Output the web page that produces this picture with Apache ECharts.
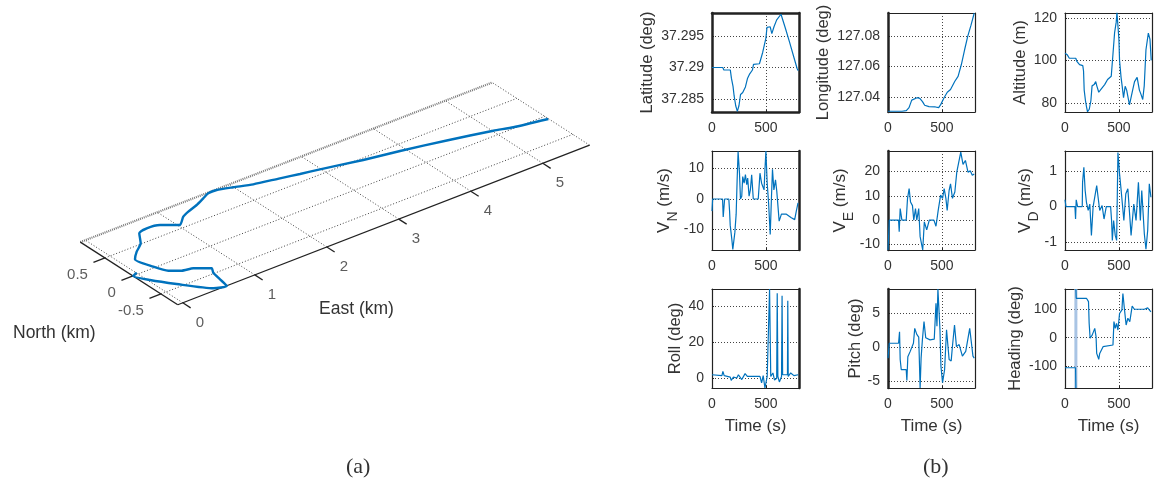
<!DOCTYPE html>
<html>
<head>
<meta charset="utf-8">
<style>html,body{margin:0;padding:0;background:#fff}#c{width:1163px;height:486px}</style>
<script src="https://cdn.jsdelivr.net/npm/echarts@6/dist/echarts.min.js"></script>
</head>
<body>
<div id="c"></div>
<script>
// ---- Panel (a): ground track, km
const trackEast = [0.006,-0.068,0.023,0.2,0.46,0.607,0.639,0.67,0.715,0.556,0.423,0.307,0.231,0.172,0.289,0.437,0.56,0.691,0.851,0.966,1.024,1.165,1.276,1.439,1.586,1.697,1.814,1.995,2.208,2.52,2.752,2.988,3.489,3.929,4.475,5.011,5.23,5.645];
const trackNorth = [0.031,-0.003,-0.185,-0.433,-0.754,-0.804,-0.643,-0.483,-0.396,-0.273,-0.236,-0.146,0.024,0.275,0.395,0.514,0.697,0.733,0.701,0.612,0.567,0.689,0.742,0.802,0.873,0.927,0.927,0.863,0.78,0.705,0.645,0.592,0.463,0.372,0.24,0.097,0.022,-0.069];
const eastTicks = [0,1,2,3,4,5];
const northTicks = [-0.5,0,0.5];
const eastRange = [-0.07,5.65];
const northRange = [-0.8,0.94];

// ---- Panel (b): [time s, value]
const latitude = [[0,37.29],[100,37.29],[110,37.2896],[170,37.2896],[180,37.2883],[195,37.287],[205,37.2855],[220,37.2839],[235,37.283],[250,37.2839],[265,37.2857],[285,37.286],[310,37.2869],[330,37.2883],[350,37.289],[375,37.2896],[385,37.2905],[440,37.2906],[470,37.2924],[500,37.2947],[510,37.2964],[540,37.2965],[555,37.2954],[575,37.2965],[600,37.2976],[640,37.2985],[680,37.2963],[720,37.294],[760,37.2916],[790,37.2898],[800,37.2895]];
const longitude = [[0,127.0305],[130,127.0305],[140,127.0309],[170,127.0309],[195,127.0329],[220,127.0378],[270,127.0394],[295,127.039],[320,127.0368],[340,127.0344],[380,127.0335],[440,127.0333],[470,127.0329],[490,127.035],[520,127.0394],[550,127.043],[580,127.0448],[620,127.0502],[650,127.0534],[680,127.061],[710,127.0707],[740,127.0798],[770,127.087],[800,127.095]];
const altitude = [[0,103.4],[20,102.7],[40,101],[100,101],[110,99.5],[135,98],[165,97.5],[172,95],[178,86],[190,81],[200,78],[209,75.8],[225,77],[240,81],[251,88],[270,88.6],[285,90],[295,88],[313,85],[335,86.5],[368,88.6],[395,91],[429,92.5],[440,93],[445,103],[460,113],[475,118],[482,122.5],[490,117],[500,110],[506,100],[520,92],[530,88],[543,82.5],[550,83],[558,87.8],[572,86],[598,79],[610,79],[629,86.3],[645,90],[669,92],[690,86],[705,84],[721,81.6],[735,88],[751,105],[773,112.8],[788,110],[800,100]];
const velNorth = [[0,-4],[6,0],[98,0],[104,-5.9],[117,0],[156,0],[163,-4],[169,-8.7],[184,-13.3],[193,-16.6],[212,-11],[224,-5],[233,6],[242,15.6],[255,8.5],[264,0],[276,0.9],[285,7.4],[298,5.2],[310,8],[322,4.7],[331,6.9],[344,0.9],[356,3],[368,8],[383,0],[429,0],[445,8.5],[460,5.2],[483,3],[491,9.6],[500,15.8],[512,5.2],[525,-1.3],[540,-11.7],[552,0.9],[561,9.8],[574,3],[589,6.3],[601,2.5],[623,-7.3],[644,-5],[690,-5],[736,-6.2],[767,-6.8],[782,-4],[798,-1.3]];
const velEast = [[0,-12.3],[12,0],[98,0],[104,-4.8],[113,4.8],[129,0],[169,0],[181,8.9],[196,13],[209,7.5],[227,6],[239,0],[255,4.8],[267,0],[285,4.8],[298,-6.8],[322,-12.3],[337,-0.7],[359,-4],[383,0],[426,0],[445,-2.5],[466,4.1],[488,10.3],[506,9],[521,13],[537,9],[549,4],[567,12.3],[580,15],[598,9],[620,11.6],[638,19.8],[675,28],[696,23],[718,24.6],[742,19.8],[764,20.3],[782,18.5],[800,19]];
const velDown = [[0,0.19],[9,0],[92,0],[98,-0.35],[104,0.19],[117,0],[160,0],[163,0.68],[175,1.1],[187,0.45],[199,0.12],[215,-0.11],[230,0.07],[245,-0.81],[261,0],[276,0],[294,0.59],[307,0.26],[322,-0.11],[344,0.03],[362,-0.35],[383,0],[423,0],[432,-0.39],[439,-0.95],[451,-0.39],[466,-0.81],[479,-0.95],[491,1.52],[506,0.92],[521,0.45],[546,-0.39],[564,0.36],[583,0.5],[613,-0.81],[638,0.07],[659,-0.39],[681,0.68],[699,-0.39],[712,0.45],[736,-0.77],[751,-1.2],[767,-0.67],[782,0.64],[797,0.26]];
const roll = [[0,2],[92,1.5],[101,3.9],[113,1.5],[169,0.7],[178,-1.1],[199,0.7],[230,0.2],[245,2],[276,-0.7],[307,2.6],[328,1.1],[445,1.1],[460,-2.6],[475,1.5],[491,-5.4],[512,1.1],[525,2],[530,2],[534,49.8],[538,49.8],[545,1],[565,3],[580,-1],[600,0],[605,47.4],[611,1],[625,-2],[645,1],[650,46],[655,2],[670,3],[700,2],[703,43.3],[707,1],[730,3],[760,1.5],[800,2]];
const pitch = [[0,-1.6],[12,0.6],[98,0.6],[107,2.3],[113,-1.8],[123,-3.3],[169,-3.3],[175,-4.9],[184,-1.4],[206,-0.6],[236,0.6],[248,2.8],[267,1.9],[285,1.5],[298,-6],[307,-1.6],[319,1.1],[334,3.8],[350,1.4],[390,1.1],[429,1.2],[445,6.5],[454,3.1],[463,8.6],[482,2.6],[491,-2.8],[506,-5.2],[525,-3.3],[543,2.6],[567,-1.8],[586,-2],[598,0.2],[617,3.3],[635,0.1],[660,0.4],[690,-1.3],[721,-0.6],[758,2.8],[788,-1.3],[800,-1.6]];
const heading = [[0,-107],[98,-107],[101,-179],[101,null],[101,173],[104,140],[199,140],[218,128],[224,51],[233,-2],[252,9],[276,33],[288,4],[294,-56],[313,-77],[322,-56],[353,-32],[445,-26],[454,57],[466,33],[478,51],[491,27],[506,86],[528,99],[537,157],[552,99],[567,45],[583,69],[601,57],[623,112],[644,101],[736,101],[767,106],[797,92]];
const headingWrap = [[101,-179],[101,173]];

const latTicks = [37.285,37.29,37.295];
const lonTicks = [127.04,127.06,127.08];
const altTicks = [80,100,120];
const velNTicks = [-10,0,10];
const velETicks = [-10,0,10,20];
const velDTicks = [-1,0,1];
const rollTicks = [0,20,40];
const pitchTicks = [-5,0,5];
const headingTicks = [-100,0,100];
const timeTicks = [0,500];

// ---- Styles and layout
const BLUE = '#0072BD', INK = '#333333', AXIS = '#222222';
const FONT = '"Liberation Sans", Arial, sans-serif';
const view = {ox:138, oy:274, ex:72, ey:-27.9, nx:-56, ny:-36};
const project = (e, n) => [view.ox + view.ex*e + view.nx*n, view.oy + view.ey*e + view.ny*n];
const colX = [712, 888, 1065], rowY = [13, 151, 289], boxW = 87, boxH = 99;

const rich = {
  v:{fontSize:17, color:INK, fontFamily:FONT, verticalAlign:'bottom', lineHeight:18},
  s:{fontSize:14, color:INK, fontFamily:FONT, verticalAlign:'bottom', lineHeight:12, padding:[0,0,-7,0]}
};
const panels = [
  {name:'Latitude (deg)', data:latitude, ticks:latTicks, min:37.2829, max:37.2987, gap:56, col:0,row:0, edge:[2.5,2.5,2.5,2.5]},
  {name:'Longitude (deg)', data:longitude, ticks:lonTicks, min:127.03, max:127.095, gap:56, col:1,row:0, edge:[2.5,1.2,1.2,1.2]},
  {name:'Altitude (m)', data:altitude, ticks:altTicks, min:75.7, max:122.3, gap:36, col:2,row:0, edge:[1.2,1.2,1.2,1.2]},
  {name:'{v|V}{s|N}{v| (m/s)}', data:velNorth, ticks:velNTicks, min:-16.8, max:15.8, gap:38, col:0,row:1, edge:[1.2,2.5,1.2,1.2]},
  {name:'{v|V}{s|E}{v| (m/s)}', data:velEast, ticks:velETicks, min:-12.3, max:28.5, gap:38, col:1,row:1, edge:[2.5,1.2,1.2,1.2]},
  {name:'{v|V}{s|D}{v| (m/s)}', data:velDown, ticks:velDTicks, min:-1.22, max:1.56, gap:30, col:2,row:1, edge:[1.2,1.2,1.2,1.2]},
  {name:'Roll (deg)', data:roll, ticks:rollTicks, min:-5.4, max:49.8, gap:28, col:0,row:2, edge:[1.2,2.5,1.2,1.2], time:true},
  {name:'Pitch (deg)', data:pitch, ticks:pitchTicks, min:-6, max:8.6, gap:24, col:1,row:2, edge:[2.5,1.2,1.2,1.2], time:true},
  {name:'Heading (deg)', data:heading, ticks:headingTicks, min:-179, max:173, gap:41, col:2,row:2, edge:[1.2,1.2,1.2,1.2], time:true, extra:headingWrap}
];

const grid = [{left:0, top:0, width:1163, height:486, show:false}];
const xAxis = [{gridIndex:0, type:'value', min:0, max:1163, show:false}];
const yAxis = [{gridIndex:0, type:'value', min:0, max:486, inverse:true, show:false}];
const series = [];

// Panel (a) helpers: every stroke is given in East/North km and projected
const thin = {color:'#444', width:1, type:[1,2]};
const hatch = {color:'#777', width:2.2, type:[1,1]};
const solid = {color:AXIS, width:1.3};
const path3d = (pts, style, extra) => series.push(Object.assign({type:'line', xAxisIndex:0, yAxisIndex:0, symbol:'none', silent:true, animation:false,
  data:pts.map(p => project(p[0], p[1])), lineStyle:style, z:2}, extra || {}));
const labels3d = (pts, texts, offset, align) => series.push({type:'scatter', xAxisIndex:0, yAxisIndex:0, symbolSize:0, silent:true, animation:false,
  data:pts.map((p,i) => ({value:project(p[0], p[1]), name:String(texts[i])})),
  label:{show:true, position:'inside', formatter:'{b}', offset:offset, align:align, verticalAlign:'middle', fontSize:15, fontFamily:FONT, color:INK}});

eastTicks.forEach(e => path3d([[e,northRange[0]],[e,northRange[1]]], thin));
northTicks.forEach(n => path3d([[eastRange[0],n],[eastRange[1],n]], thin));
path3d([[eastRange[0],northRange[1]],[eastRange[1],northRange[1]]], hatch);
path3d([[eastRange[1],northRange[0]],[eastRange[1],northRange[1]]], thin);
path3d([[eastRange[0],northRange[0]],[eastRange[1],northRange[0]]], solid);
path3d([[eastRange[0],northRange[0]],[eastRange[0],northRange[1]]], solid);
eastTicks.forEach(e => path3d([[e,northRange[0]],[e,northRange[0]-0.14]], solid));
northTicks.forEach(n => path3d([[eastRange[0],n],[eastRange[0]-0.16,n]], solid));
path3d(trackEast.map((e,i) => [e, trackNorth[i]]), {color:BLUE, width:2.4}, {smooth:0.2});
labels3d(eastTicks.map(e => [e,northRange[0]]), eastTicks, [17,20], 'center');
labels3d(northTicks.map(n => [eastRange[0],n]), northTicks, [-17,17], 'right');

// Panel (b)
const dotted = {show:true, lineStyle:{color:'#444', width:1, type:[1,2]}};
panels.forEach((p, i) => {
  const g = grid.length;
  grid.push({left:colX[p.col], top:rowY[p.row], width:boxW, height:boxH, show:false});
  const xi = xAxis.length, yi = yAxis.length;
  xAxis.push({gridIndex:g, type:'value', min:0, max:807, position:'bottom',
    axisLine:{show:true, onZero:false, lineStyle:{color:AXIS, width:p.edge[3]}},
    axisTick:{show:true, inside:true, length:2, customValues:timeTicks, lineStyle:{color:AXIS}},
    axisLabel:{show:true, margin:9, fontSize:14, fontFamily:FONT, color:INK, customValues:timeTicks, formatter:v => String(v)},
    splitLine:dotted,
    name:p.time ? 'Time (s)' : '', nameLocation:'middle', nameGap:30,
    nameTextStyle:{fontSize:17, fontFamily:FONT, color:INK}});
  xAxis.push({gridIndex:g, type:'value', min:0, max:807, position:'top',
    axisLine:{show:true, onZero:false, lineStyle:{color:AXIS, width:p.edge[2]}},
    axisTick:{show:false}, axisLabel:{show:false}, splitLine:{show:false}});
  yAxis.push({gridIndex:g, type:'value', min:p.min, max:p.max, position:'left',
    axisLine:{show:true, onZero:false, lineStyle:{color:AXIS, width:p.edge[0]}},
    axisTick:{show:true, inside:true, length:2, customValues:p.ticks, lineStyle:{color:AXIS}},
    axisLabel:{show:true, margin:8, fontSize:14, fontFamily:FONT, color:INK, customValues:p.ticks, formatter:v => String(v)},
    splitLine:dotted,
    name:p.name, nameLocation:'middle', nameRotate:90, nameGap:p.gap,
    nameTextStyle:{fontSize:16.5, fontFamily:FONT, color:INK, rich:rich}});
  yAxis.push({gridIndex:g, type:'value', min:p.min, max:p.max, position:'right',
    axisLine:{show:true, onZero:false, lineStyle:{color:AXIS, width:p.edge[1]}},
    axisTick:{show:false}, axisLabel:{show:false}, splitLine:{show:false}});
  if (p.extra) series.push({type:'line', xAxisIndex:xi, yAxisIndex:yi, data:p.extra, symbol:'none', silent:true, animation:false,
    lineStyle:{color:'#A9C4E4', width:3}, z:2});
  series.push({type:'line', xAxisIndex:xi, yAxisIndex:yi, data:p.data, symbol:'none', silent:true, animation:false,
    lineStyle:{color:BLUE, width:1.2}, z:3});
});

const text = (x, y, s, size, family) => ({type:'text', left:x, top:y, silent:true,
  style:{text:s, x:0, y:0, fontSize:size, fontFamily:family, fill:INK, textAlign:'center', textVerticalAlign:'middle'}});

const chart = echarts.init(document.getElementById('c'), null, {renderer:'canvas'});
chart.setOption({
  animation:false, backgroundColor:'#fff', grid, xAxis, yAxis, series,
  graphic:[
    text(319, 300, 'East (km)', 17.5, FONT),
    text(13, 324, 'North (km)', 17.5, FONT),
    text(346, 456, '(a)', 22, '"Liberation Serif", serif'),
    text(923, 456, '(b)', 22, '"Liberation Serif", serif')
  ]
});
</script>
</body>
</html>
